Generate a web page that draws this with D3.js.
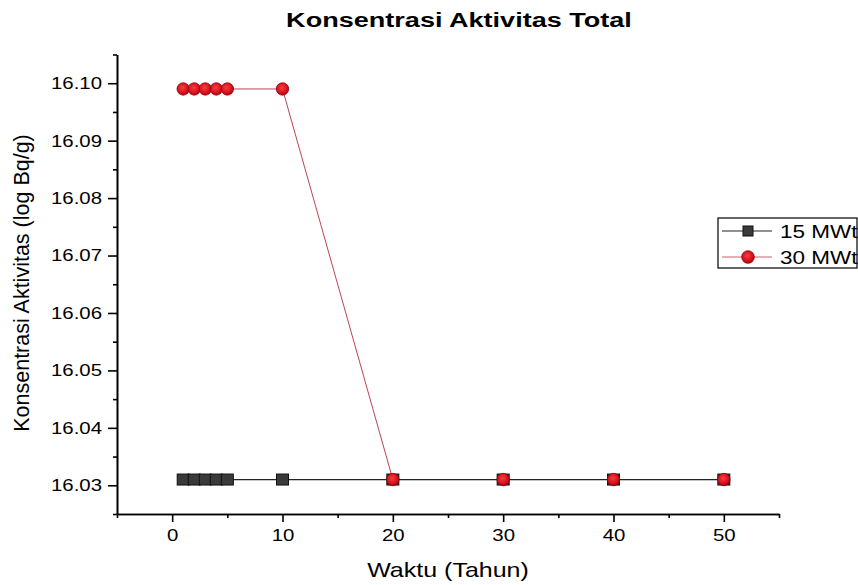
<!DOCTYPE html>
<html lang="en">
<head>
<meta charset="utf-8">
<title>Konsentrasi Aktivitas Total</title>
<script src="https://d3js.org/d3.v7.min.js"></script>
<style>
  body { margin: 0; background: #fff; }
  text { font-family: "Liberation Sans", Arial, sans-serif; fill: #000; }
</style>
</head>
<body>
<script>
// data
const waktu = [1, 2, 3, 4, 5, 10, 20, 30, 40, 50];
const mw15 = [16.031, 16.031, 16.031, 16.031, 16.031, 16.031, 16.031, 16.031, 16.031, 16.031];
const mw30 = [16.099, 16.099, 16.099, 16.099, 16.099, 16.099, 16.031, 16.031, 16.031, 16.031];
const xTicks = [0, 10, 20, 30, 40, 50];
const yTicks = [16.03, 16.04, 16.05, 16.06, 16.07, 16.08, 16.09, 16.10];
const seriesNames = ["15 MWt", "30 MWt"];

const W = 858, H = 585;
const sx = 1.2; // the picture is stretched sideways

const svg = d3.select("body").append("svg")
  .attr("width", W).attr("height", H);

const defs = svg.append("defs");
const grad = defs.append("radialGradient").attr("id", "redball")
  .attr("cx", "45%").attr("cy", "40%").attr("r", "60%");
grad.append("stop").attr("offset", "0%").attr("stop-color", "#f24040");
grad.append("stop").attr("offset", "70%").attr("stop-color", "#d8101a");
grad.append("stop").attr("offset", "100%").attr("stop-color", "#a80010");

const x = d3.scaleLinear().domain([-5, 55]).range([117, 779]);
const y = d3.scaleLinear().domain([16.025, 16.105]).range([514, 54.5]);

// axes
const gx = svg.append("g").attr("transform", `translate(0,${y(16.025)})`)
  .call(d3.axisBottom(x).tickValues(xTicks).tickSize(8).tickSizeOuter(0).tickPadding(7));
svg.append("g").attr("transform", `translate(0,${y(16.025)})`)
  .call(d3.axisBottom(x).tickValues(d3.range(-5, 56, 10)).tickSize(4).tickSizeOuter(0).tickFormat(""));
const gy = svg.append("g").attr("transform", `translate(${x(-5)},0)`)
  .call(d3.axisLeft(y).tickValues(yTicks).tickSize(9).tickSizeOuter(0).tickPadding(6)
    .tickFormat(d3.format(".2f")));
svg.append("g").attr("transform", `translate(${x(-5)},0)`)
  .call(d3.axisLeft(y).tickValues(d3.range(16.025, 16.106, 0.01)).tickSize(4).tickSizeOuter(0).tickFormat(""));

svg.selectAll(".domain, .tick line").attr("stroke", "#000").attr("stroke-width", 1.6);
svg.selectAll(".tick text").attr("font-size", 17).attr("font-family", "Liberation Sans, Arial, sans-serif");
gx.selectAll(".tick text").attr("transform", `scale(${sx},1)`);
gy.selectAll(".tick text")
  .attr("transform", `translate(-15,0) scale(${sx},1) translate(15,0)`);

// lines
const line = d3.line().x((d, i) => x(waktu[i])).y(d => y(d));
svg.append("path").datum(mw30).attr("d", line)
  .attr("fill", "none").attr("stroke", "#b03040").attr("stroke-width", 0.9);
svg.append("path").datum(mw15).attr("d", line)
  .attr("fill", "none").attr("stroke", "#222").attr("stroke-width", 1.2);

// markers
svg.append("g").selectAll("rect").data(mw15).join("rect")
  .attr("x", (d, i) => x(waktu[i]) - 6).attr("y", d => y(d) - 5.5)
  .attr("width", 12).attr("height", 11)
  .attr("fill", "#3a3a3a").attr("stroke", "#111").attr("stroke-width", 1);
svg.append("g").selectAll("circle").data(mw30).join("circle")
  .attr("cx", (d, i) => x(waktu[i])).attr("cy", d => y(d)).attr("r", 6.2)
  .attr("fill", "url(#redball)").attr("stroke", "#900010").attr("stroke-width", 0.8);

// title and axis labels
svg.append("text").attr("transform", `translate(459,27) scale(1.32,1)`)
  .attr("text-anchor", "middle").attr("font-size", 20.5).attr("font-weight", "bold")
  .text("Konsentrasi Aktivitas Total");
svg.append("text").attr("transform", `translate(448,577) scale(1.22,1)`)
  .attr("text-anchor", "middle").attr("font-size", 20.5)
  .text("Waktu (Tahun)");
svg.append("text").attr("transform", `translate(29,283) rotate(-90)`)
  .attr("text-anchor", "middle").attr("font-size", 21.5)
  .text("Konsentrasi Aktivitas (log Bq/g)");

// legend
const lg = svg.append("g");
lg.append("rect").attr("x", 718).attr("y", 218).attr("width", 139).attr("height", 50)
  .attr("fill", "#fff").attr("stroke", "#000").attr("stroke-width", 1.2);
seriesNames.forEach((name, i) => {
  const ly = 231 + i * 26;
  lg.append("line").attr("x1", 722).attr("x2", 772).attr("y1", ly).attr("y2", ly)
    .attr("stroke", i === 0 ? "#222" : "#d06068").attr("stroke-width", 1);
  if (i === 0) {
    lg.append("rect").attr("x", 743).attr("y", ly - 5).attr("width", 10).attr("height", 10)
      .attr("fill", "#3a3a3a").attr("stroke", "#111");
  } else {
    lg.append("circle").attr("cx", 748).attr("cy", ly).attr("r", 6.3)
      .attr("fill", "url(#redball)").attr("stroke", "#900010").attr("stroke-width", 0.8);
  }
  lg.append("text").attr("transform", `translate(780,${ly + 6.5}) scale(1.25,1)`)
    .attr("font-size", 18).text(name);
});
</script>
</body>
</html>
